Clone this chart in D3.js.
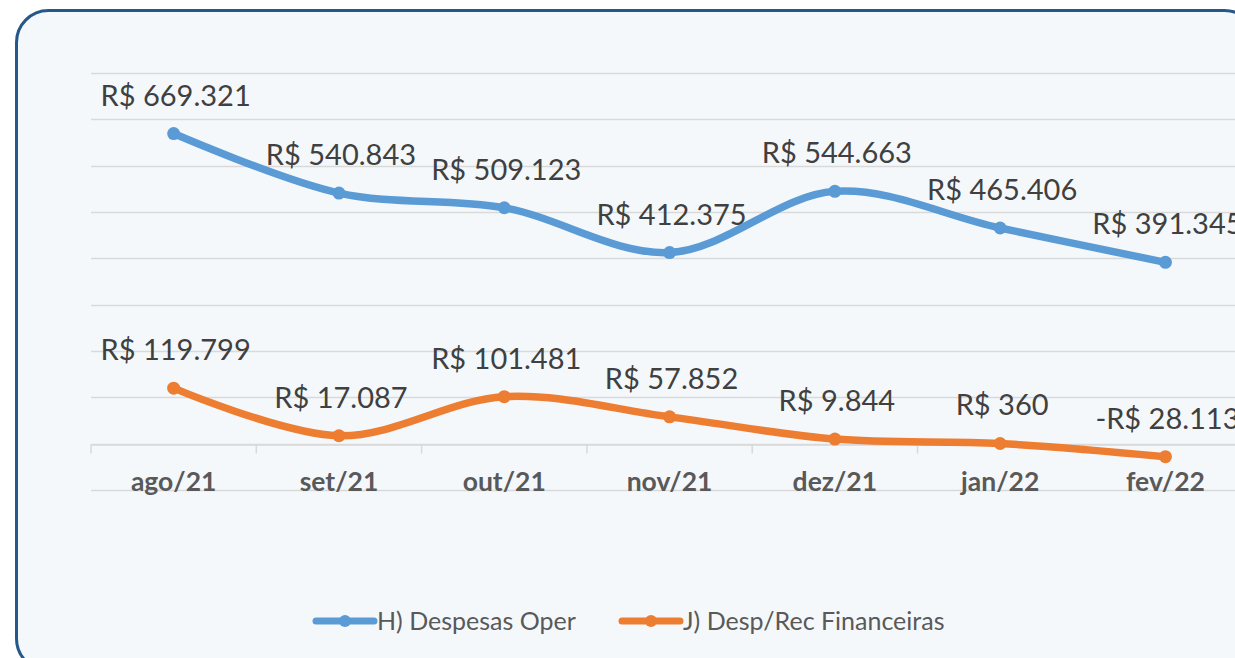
<!DOCTYPE html>
<html>
<head>
<meta charset="utf-8">
<script src="https://cdn.jsdelivr.net/npm/d3@7"></script>
<style>
  html, body { margin: 0; padding: 0; background: #ffffff; }
  svg { display: block; }
</style>
</head>
<body>
<div id="chart"></div>
<script>
var months = ["ago/21", "set/21", "out/21", "nov/21", "dez/21", "jan/22", "fev/22"];
var despesasOper = [669321, 540843, 509123, 412375, 544663, 465406, 391345];
var despRecFin = [119799, 17087, 101481, 57852, 9844, 360, -28113];
var seriesNames = ["H) Despesas Oper", "J) Desp/Rec Financeiras"];
var seriesColors = ["#5b9bd5", "#ed7d31"];
var gridTicks = [-100000, 0, 100000, 200000, 300000, 400000, 500000, 600000, 700000, 800000];

function main(){
    var canvasWidth = 1235;
    var canvasHeight = 658;
    var font = "Lato, 'Open Sans', sans-serif";

    var svg = d3.select("#chart").append("svg")
        .attr("width", canvasWidth)
        .attr("height", canvasHeight);

    // panel with rounded border
    svg.append("rect")
        .attr("x", 16.5)
        .attr("y", 10.5)
        .attr("width", 1240)
        .attr("height", 660)
        .attr("rx", 32)
        .attr("fill", "#f5f8fb")
        .attr("stroke", "#24588a")
        .attr("stroke-width", 3);

    var xScale = d3.scaleBand().domain(months).range([91, 91 + 7 * 165.3]);
    var yScale = d3.scaleLinear().domain([-100000, 800000]).range([490, 73]);
    var xMid = function(i) { return xScale(months[i]) + xScale.bandwidth() / 2; };

    // gridlines
    svg.append("g").selectAll("line")
        .data(gridTicks)
        .enter().append("line")
        .attr("x1", 91)
        .attr("x2", canvasWidth)
        .attr("y1", function(d) { return Math.round(yScale(d)) + 0.5; })
        .attr("y2", function(d) { return Math.round(yScale(d)) + 0.5; })
        .attr("stroke", "#d9d9d9")
        .attr("stroke-width", 1.5);

    // category axis at zero
    var xAxis = svg.append("g")
        .attr("transform", "translate(0," + (Math.round(yScale(0)) + 0.5) + ")")
        .call(d3.axisBottom(xScale).tickSize(0).tickPadding(28));
    xAxis.select(".domain").attr("stroke", "#d9d9d9").attr("stroke-width", 1.5);
    xAxis.selectAll("text")
        .attr("font-family", font)
        .attr("font-size", "26.5px")
        .attr("font-weight", "bold")
        .attr("fill", "#595959");
    // boundary ticks between categories
    xAxis.append("g").selectAll("line")
        .data(months)
        .enter().append("line")
        .attr("x1", function(d) { return xScale(d); })
        .attr("x2", function(d) { return xScale(d); })
        .attr("y1", 0)
        .attr("y2", 9)
        .attr("stroke", "#d9d9d9")
        .attr("stroke-width", 1.5);

    var line = d3.line()
        .x(function(d, i) { return xMid(i); })
        .y(function(d) { return yScale(d); })
        .curve(d3.curveCatmullRom.alpha(0.5));

    var fmt = function(v) {
        var s = d3.format(",")(Math.abs(v)).replace(/,/g, ".");
        return (v < 0 ? "-" : "") + "R$ " + s;
    };

    [despesasOper, despRecFin].forEach(function(values, k) {
        var g = svg.append("g");
        g.append("path")
            .datum(values)
            .attr("d", line)
            .attr("fill", "none")
            .attr("stroke", seriesColors[k])
            .attr("stroke-width", 7.5)
            .attr("stroke-linecap", "round");
        g.selectAll("circle")
            .data(values)
            .enter().append("circle")
            .attr("cx", function(d, i) { return xMid(i); })
            .attr("cy", function(d) { return yScale(d); })
            .attr("r", 6.5)
            .attr("fill", seriesColors[k]);
        g.selectAll("text")
            .data(values)
            .enter().append("text")
            .attr("x", function(d, i) { return xMid(i) + 2; })
            .attr("y", function(d) { return yScale(d) - 28; })
            .attr("text-anchor", "middle")
            .attr("font-family", font)
            .attr("font-size", "29px")
            .attr("fill", "#404040")
            .text(fmt);
    });

    // legend
    var legendX = [316, 622];
    var legend = svg.append("g");
    seriesNames.forEach(function(name, k) {
        var lg = legend.append("g").attr("transform", "translate(" + legendX[k] + ",621)");
        lg.append("line")
            .attr("x1", 0).attr("x2", 58)
            .attr("y1", 0).attr("y2", 0)
            .attr("stroke", seriesColors[k])
            .attr("stroke-width", 7)
            .attr("stroke-linecap", "round");
        lg.append("circle")
            .attr("cx", 29).attr("cy", 0).attr("r", 6)
            .attr("fill", seriesColors[k]);
        lg.append("text")
            .attr("x", 61)
            .attr("y", 8.5)
            .attr("font-family", font)
            .attr("font-size", "25px")
            .attr("fill", "#595959")
            .text(name);
    });
}

main()
</script>
</body>
</html>
